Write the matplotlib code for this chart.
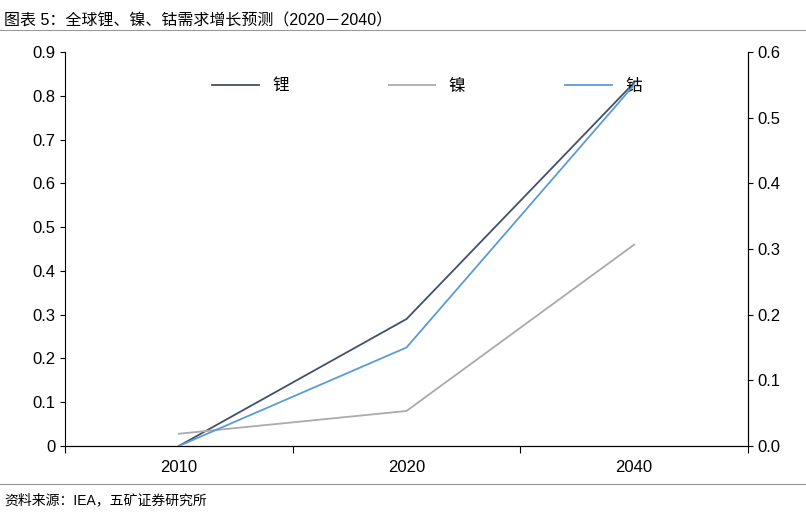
import matplotlib
matplotlib.use("Agg")
import matplotlib.pyplot as plt

plt.rcParams['font.family'] = ['Liberation Sans', 'Noto Sans CJK SC']

years = ["2010", "2020", "2040"]
lithium = [0.0, 0.29, 0.83]
nickel = [0.028, 0.08, 0.46]
cobalt = [0.0, 0.15, 0.55]

fig = plt.figure(figsize=(8.06, 5.13), dpi=100)
ax = fig.add_axes([65/806, 1-446/513, 683/806, 394/513])
ax2 = ax.twinx()
x = [0.5, 1.5, 2.5]
l1, = ax.plot(x, lithium, color="#44506a", lw=1.3, label="锂")
l2, = ax.plot(x, nickel, color="#aaaaaa", lw=1.3, label="镍")
l3, = ax2.plot(x, cobalt, color="#5b9bd5", lw=1.3, label="钴")
ax.set_xlim(0, 3)
ax.set_ylim(0, 0.9)
ax2.set_ylim(0, 0.6)
ax.set_yticks([i/10 for i in range(10)])
ax.set_yticklabels(["0"] + [f"{i/10:.1f}" for i in range(1, 10)])
ax2.set_yticks([i/10 for i in range(7)])
ax2.set_yticklabels(["0.0"] + [f"{i/10:.1f}" for i in range(1, 7)])
ax.set_xticks([0, 1, 2, 3])
ax.set_xticklabels([])
ax.set_xticks(x, minor=True)
ax.set_xticklabels(years, minor=True)
ax.tick_params(axis='x', which='minor', length=0, pad=10)
ax.tick_params(axis='x', which='major', length=5, direction='out')
for a in (ax, ax2):
    a.spines['top'].set_visible(False)
    a.tick_params(labelsize=12, which='both')
ax2.spines['left'].set_visible(False)
ax.legend(handles=[l1, l2, l3], loc='upper center', bbox_to_anchor=(0.53, 0.97), ncol=3,
          frameon=False, fontsize=12, handlelength=2.8, columnspacing=6)
fig.text(0.005, 0.975, "图表 5：全球锂、镍、钴需求增长预测（2020－2040）", fontsize=11.5, va='top')
fig.text(0.005, 0.012, "资料来源：IEA，五矿证券研究所", fontsize=10, va='bottom')
fig.add_artist(plt.Line2D([0, 1], [1-30/513]*2, color='#999999', lw=0.8))
fig.add_artist(plt.Line2D([0, 1], [1-484/513]*2, color='#999999', lw=0.8))
fig.savefig("out.png", dpi=100)
